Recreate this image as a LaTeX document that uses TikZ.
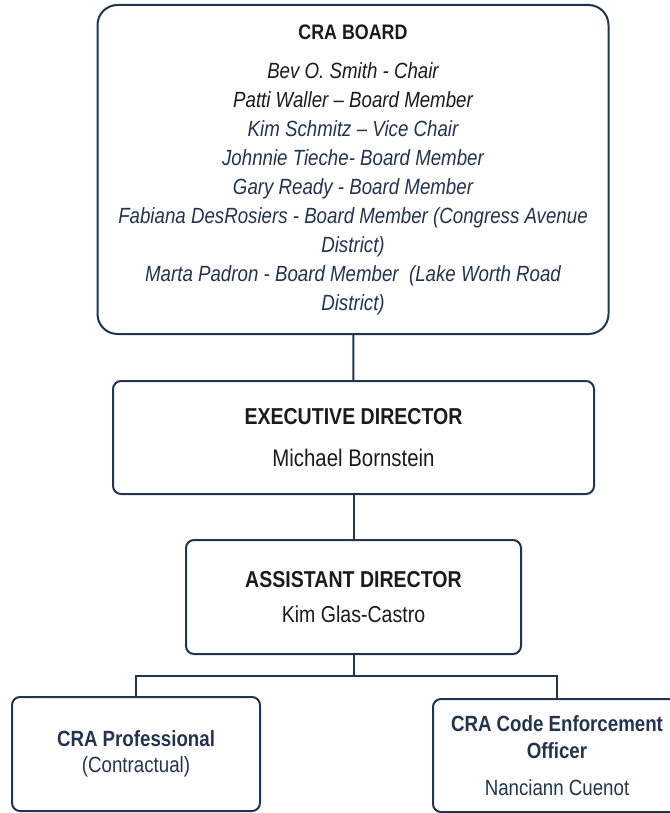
\documentclass[tikz,border=0pt]{standalone}
\usepackage{fontspec}
\setmainfont{Liberation Sans}[FakeStretch=0.85]
\definecolor{navy}{HTML}{22344F}
\definecolor{ink}{HTML}{1B1B1B}

\begin{document}
\begin{tikzpicture}[x=1pt,y=-1pt,
    box/.style={draw=navy,line width=2pt,rounded corners=8pt,align=center,inner sep=0pt,text=ink},
    link/.style={draw=navy,line width=2pt}]
        \useasboundingbox[fill=white] (0,0) rectangle (669,813);

        \node[box,rounded corners=20pt,minimum width=511,minimum height=329,
              font=\fontsize{22}{29}\selectfont] (board) at (353,169.5)
            {{\fontsize{21}{29}\selectfont\bfseries CRA BOARD}\\[10pt]
             \itshape Bev O. Smith - Chair\\
             \itshape Patti Waller -- Board Member\\
             \itshape\color{navy} Kim Schmitz -- Vice Chair\\
             \itshape\color{navy} Johnnie Tieche- Board Member\\
             \itshape\color{navy} Gary Ready - Board Member\\
             \itshape\color{navy} Fabiana DesRosiers - Board Member (Congress Avenue\\
             \itshape\color{navy} District)\\
             \itshape\color{navy} Marta Padron - Board Member\ \ (Lake Worth Road\\
             \itshape\color{navy} District)};
        \node[box,minimum width=481,minimum height=113,
              font=\fontsize{23}{30}\selectfont] (exec) at (353.5,437.5)
            {\bfseries EXECUTIVE DIRECTOR\\[12pt]
             {\fontsize{24}{30}\selectfont Michael Bornstein}};
        \node[box,minimum width=335,minimum height=114,
              font=\fontsize{23}{30}\selectfont] (asst) at (353.5,597)
            {\bfseries ASSISTANT DIRECTOR\\[5pt]
             Kim Glas-Castro};
        \node[box,minimum width=248,minimum height=114,text=navy,
              font=\fontsize{22}{26}\selectfont] (prof) at (136,754)
            {\bfseries CRA Professional\\
             (Contractual)};
        \node[box,minimum width=248,minimum height=113,text=navy,
              font=\fontsize{22}{27}\selectfont] (code) at (557,755.5)
            {\bfseries CRA Code Enforcement\\
             \bfseries Officer\\[10pt]
             Nanciann Cuenot};

        \coordinate (bus) at (353.5,676);

        \draw[link] (board) -- (exec);
        \draw[link] (exec) -- (asst);
        \draw[link] (asst) -- (bus) -| (prof);
        \draw[link] (bus) -| (code);
      \end{tikzpicture}
\end{document}
